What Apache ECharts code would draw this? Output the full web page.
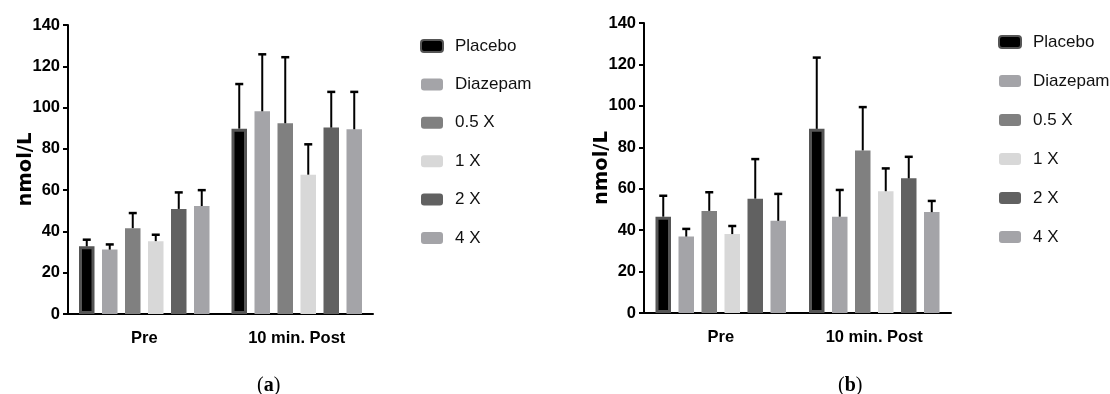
<!DOCTYPE html>
<html>
<head>
<meta charset="utf-8">
<script src="https://cdn.jsdelivr.net/npm/echarts@6/dist/echarts.min.js"></script>
<style>
html,body{margin:0;padding:0;background:#fff;}
#c{width:1110px;height:394px;}
</style>
</head>
<body>
<div id="c"></div>
<script>
// ---- data ----
const categories = ['Pre', '10 min. Post'];
const seriesNames = ['Placebo', 'Diazepam', '0.5 X', '1 X', '2 X', '4 X'];
const yTicks = [0, 20, 40, 60, 80, 100, 120, 140];
const panelLabels = ['a', 'b'];

// Panel (a): means [Pre, Post] and upper error (SD)
const aPlacebo  = [32.8, 89.8];  const aPlaceboErr  = [3.2, 21.6];
const aDiazepam = [31.2, 98.2];  const aDiazepamErr = [2.5, 27.6];
const aHalfX    = [41.6, 92.4];  const aHalfXErr    = [7.3, 32.0];
const aOneX     = [35.3, 67.5];  const aOneXErr     = [3.1, 14.7];
const aTwoX     = [50.9, 90.3];  const aTwoXErr     = [8.0, 17.3];
const aFourX    = [52.3, 89.5];  const aFourXErr    = [7.7, 18.1];

// Panel (b)
const bPlacebo  = [46.5, 88.9];  const bPlaceboErr  = [10.1, 34.4];
const bDiazepam = [36.9, 46.5];  const bDiazepamErr = [3.7, 12.9];
const bHalfX    = [49.3, 78.5];  const bHalfXErr    = [9.0, 20.9];
const bOneX     = [38.1, 58.8];  const bOneXErr     = [3.9, 11.0];
const bTwoX     = [55.2, 65.0];  const bTwoXErr     = [19.1, 10.4];
const bFourX    = [44.5, 48.7];  const bFourXErr    = [13.0, 5.4];

const panelA = { means: [aPlacebo, aDiazepam, aHalfX, aOneX, aTwoX, aFourX],
                 errs:  [aPlaceboErr, aDiazepamErr, aHalfXErr, aOneXErr, aTwoXErr, aFourXErr] };
const panelB = { means: [bPlacebo, bDiazepam, bHalfX, bOneX, bTwoX, bFourX],
                 errs:  [bPlaceboErr, bDiazepamErr, bHalfXErr, bOneXErr, bTwoXErr, bFourXErr] };

// ---- font selection (narrow face if installed, else Arial-metric face sized to width) ----
const cv = document.createElement('canvas').getContext('2d');
function w(font, txt) { cv.font = font; return cv.measureText(txt).width; }
function installed(fam) {
  const t = 'abcdefghijklmnopqrstuvwxyz0123456789';
  return w('20px "' + fam + '", monospace', t) !== w('20px monospace', t) ||
         w('20px "' + fam + '", serif', t) !== w('20px serif', t);
}
let boldFam, regFam;
if (installed('Liberation Sans Narrow')) {
  boldFam = '"Liberation Sans Narrow"'; regFam = '"Liberation Sans Narrow"';
} else {
  boldFam = '"Liberation Sans", Arial, sans-serif'; regFam = '"Liberation Sans", Arial, sans-serif';
}
function fitSize(weight, fam, txt, target) {
  const base = w(weight + ' 20px ' + fam, txt);
  return Math.round(20 * target / base * 2) / 2;
}
const tickSize = fitSize('bold', boldFam, '10 min. Post', 96);
const legSize = fitSize('normal', regFam, 'Placebo', 62);

// ---- style ----
const colors = ['#000000', '#a4a4a8', '#808080', '#d8d8d8', '#616161', '#a4a4a8'];
const BAR_W = 15.5, BAR_GAP = 7.5, PITCH = BAR_W + BAR_GAP;

const grids = [
  { left: 68, width: 305, top: 25, bottom: 80 },
  { left: 644, width: 307, top: 23, bottom: 81 }
];

function xAxisFor(i) {
  return {
    type: 'category', gridIndex: i, data: categories,
    axisLine: { lineStyle: { color: '#000', width: 2 } },
    axisTick: { alignWithLabel: true, length: 7, lineStyle: { color: '#000', width: 2 } },
    axisLabel: { interval: 0, color: '#000', fontFamily: boldFam, fontWeight: 'bold', fontSize: tickSize, margin: 16 }
  };
}
function yAxisFor(i) {
  return {
    type: 'value', gridIndex: i, min: 0, max: 140, interval: 20,
    name: 'nmol/L', nameLocation: 'middle', nameGap: 32, nameMoveOverlap: false,
    nameTextStyle: { color: '#000', fontFamily: '"DejaVu Sans", sans-serif', fontWeight: 'bold', fontSize: 19.5 },
    splitLine: { show: false },
    axisLine: { show: true, lineStyle: { color: '#000', width: 2 } },
    axisTick: { show: true, length: 5, lineStyle: { color: '#000', width: 2 } },
    axisLabel: { color: '#000', fontFamily: boldFam, fontWeight: 'bold', fontSize: tickSize, margin: 8,
      formatter: v => (yTicks.indexOf(v) >= 0 ? String(v) : '') }
  };
}

const series = [];
[panelA, panelB].forEach((panel, gi) => {
  panel.means.forEach((vals, si) => {
    series.push({
      type: 'bar', name: seriesNames[si], xAxisIndex: gi, yAxisIndex: gi,
      data: vals, barWidth: BAR_W, barGap: (BAR_GAP / BAR_W * 100) + '%',
      itemStyle: si === 0 ? { color: colors[si], borderColor: '#555', borderWidth: 3 } : { color: colors[si] },
      emphasis: { disabled: true }, z: 2
    });
  });
  const errData = [];
  panel.means.forEach((vals, si) => {
    vals.forEach((m, ci) => errData.push([ci, si, m, m + panel.errs[si][ci]]));
  });
  series.push({
    type: 'custom', xAxisIndex: gi, yAxisIndex: gi, z: 5, silent: true,
    encode: { x: 0, y: [2, 3] },
    data: errData,
    renderItem: function (params, api) {
      const ci = api.value(0), si = api.value(1);
      const p0 = api.coord([ci, api.value(2)]);
      const p1 = api.coord([ci, api.value(3)]);
      const x = p0[0] + (si - 2.5) * PITCH;
      return {
        type: 'group',
        children: [
          { type: 'line', shape: { x1: x, y1: p0[1], x2: x, y2: p1[1] }, style: { stroke: '#000', lineWidth: 2 } },
          { type: 'line', shape: { x1: x - 4, y1: p1[1], x2: x + 4, y2: p1[1] }, style: { stroke: '#000', lineWidth: 2.5 } }
        ]
      };
    }
  });
});

function legendFor(left, top, gap) {
  return {
    orient: 'vertical', left: left, top: top, padding: 0, itemWidth: 22, itemHeight: 12, itemGap: gap,
    data: seriesNames, selectedMode: false,
    textStyle: { color: '#111', fontFamily: regFam, fontSize: legSize, lineHeight: 20, padding: [0, 0, 0, 7] }
  };
}

const capRich = { b: { fontFamily: '"Liberation Serif", serif', fontWeight: 'bold', fontSize: 20, fill: '#000' } };
const chart = echarts.init(document.getElementById('c'), null, { renderer: 'canvas' });
chart.setOption({
  backgroundColor: '#fff',
  animation: false,
  grid: grids,
  xAxis: [xAxisFor(0), xAxisFor(1)],
  yAxis: [yAxisFor(0), yAxisFor(1)],
  legend: [legendFor(420, 36, 18.4), legendFor(998, 32, 19)],
  series: series,
  graphic: [
    { type: 'text', left: 257, top: 376, style: { text: '({b|' + panelLabels[0] + '})', fontFamily: '"Liberation Serif", serif', fontSize: 20, fill: '#000', rich: capRich } },
    { type: 'text', left: 838, top: 376, style: { text: '({b|' + panelLabels[1] + '})', fontFamily: '"Liberation Serif", serif', fontSize: 20, fill: '#000', rich: capRich } }
  ]
});
</script>
</body>
</html>
